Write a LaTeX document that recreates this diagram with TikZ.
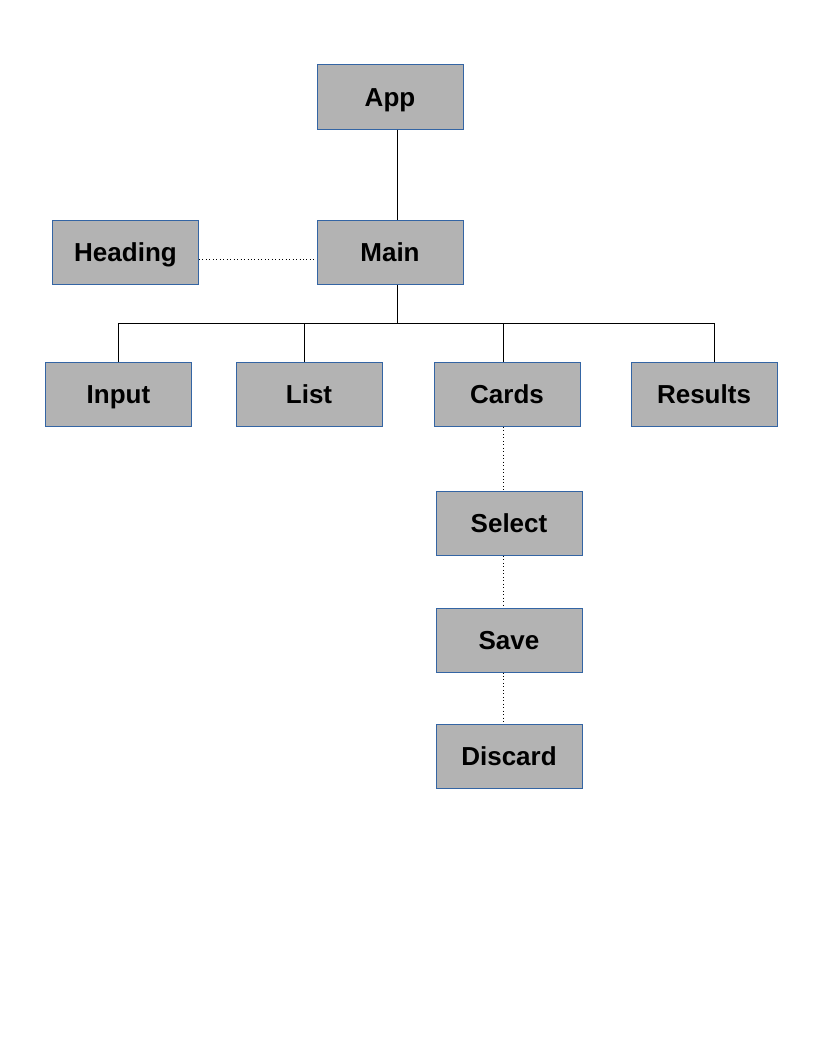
\documentclass[tikz,border=0pt]{standalone}
\usepackage{fontspec}
\setmainfont{Liberation Sans}
\usepackage{xcolor}
\definecolor{boxfill}{HTML}{B3B3B3}
\definecolor{boxline}{HTML}{3465A4}
\tikzset{
  comp/.style={draw=boxline, fill=boxfill, line width=0.75pt,
    minimum width=109.5pt, minimum height=48pt, inner sep=0pt,
    text height=14pt, text depth=0pt,
    font=\fontsize{19.5}{22}\selectfont\bfseries},
  link/.style={line width=0.75pt},
  hint/.style={dotted, line width=0.6pt}
}
\begin{document}
\begin{tikzpicture}[x=0.75pt,y=-0.75pt]
    \useasboundingbox (0,0) rectangle (816,1056);

    % top of the tree
    \node[comp] (app) at (390,97) {App};
    \node[comp] (main) at (390,252) {Main};
    \node[comp] (heading) at (125.5,252) {Heading};

    % children of main
    \node[comp] (input) at (118.5,394.5) {Input};
    \node[comp] (list) at (309,394.5) {List};
    \node[comp] (cards) at (507,394.5) {Cards};
    \node[comp] (results) at (704,394.5) {Results};

    % card actions
    \node[comp] (select) at (509,523.5) {Select};
    \node[comp] (save) at (509,640) {Save};
    \node[comp] (discard) at (509,756.5) {Discard};

    % solid links
    \draw[link] ([xshift=5.25pt]app.south) -- ([xshift=5.25pt]main.north);
    \coordinate (bus) at (397,323);
    \draw[link] ([xshift=5.25pt]main.south) -- (bus);
    \draw[link] (input.north) -- (input.north |- bus) -- (bus);
    \draw[link] (bus) -- ([xshift=7.5pt]results.north |- bus) -- ([xshift=7.5pt]results.north);
    \draw[link] ([xshift=-3.75pt]list.north) -- ([xshift=-3.75pt]list.north |- bus);
    \draw[link] ([xshift=-3pt]cards.north) -- ([xshift=-3pt]cards.north |- bus);

    % dotted links
    \draw[hint] ([yshift=-5.25pt]heading.east) -- ([yshift=-5.25pt]main.west);
    \draw[hint] ([xshift=-3pt]cards.south) -- ([xshift=-4.5pt]select.north);
    \draw[hint] ([xshift=-4.5pt]select.south) -- ([xshift=-4.5pt]save.north);
    \draw[hint] ([xshift=-4.5pt]save.south) -- ([xshift=-4.5pt]discard.north);
\end{tikzpicture}
\end{document}
